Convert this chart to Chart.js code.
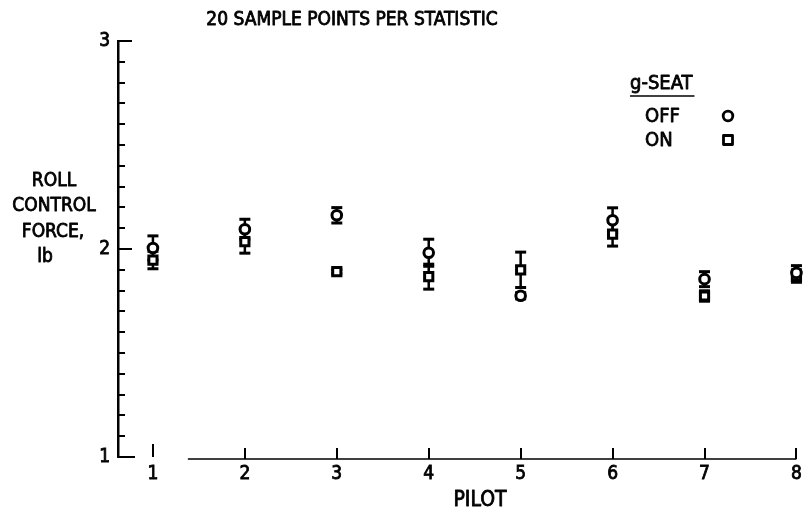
<!DOCTYPE html>
<html>
<head>
<meta charset="utf-8">
<title>Roll control force per pilot</title>
<script src="https://cdn.jsdelivr.net/npm/chart.js@4.4.1/dist/chart.umd.min.js"></script>
<style>
  html, body { margin: 0; padding: 0; background: #fff; }
  #wrap { width: 808px; height: 515px; position: relative; }
</style>
</head>
<body>
<div id="wrap"><canvas id="chart" width="808" height="515"></canvas></div>
<script>
// values (lb)
const PILOTS = [1, 2, 3, 4, 5, 6, 7, 8];
const OFF_MEAN = [2.005, 2.095, 2.162, 1.982, 1.775, 2.138, 1.855, 1.885];
const OFF_ERR = [0.058, 0.048, 0.037, 0.065, 0.015, 0.060, 0.036, 0.035];
const ON_MEAN = [1.947, 2.035, 1.891, 1.867, 1.900, 2.072, 1.774, 1.870];
const ON_ERR = [0.042, 0.055, 0.010, 0.060, 0.085, 0.058, 0.025, 0.030];

const Y_TICKS = [1.0, 1.1, 1.2, 1.3, 1.4, 1.5, 1.6, 1.7, 1.8, 1.9, 2.0,
  2.1, 2.2, 2.3, 2.4, 2.5, 2.6, 2.7, 2.8, 2.9, 3.0];
const Y_LABELED = [1, 2, 3];

const TITLE = "20 SAMPLE POINTS PER STATISTIC";
const Y_TITLE = ["ROLL", "CONTROL", "FORCE,", "lb"];
const X_TITLE = "PILOT";
const LEGEND_TITLE = "g-SEAT";
const LEGEND_LABELS = ["OFF", "ON"];

const FONT = "'Liberation Sans Narrow', 'DejaVu Sans Condensed', 'DejaVu Sans', sans-serif";
const INK = 0.8; // extra stroke so the lettering reads as heavy as the scan

/**
 * draw text filled plus a thin outline
 */
function ink(ctx, s, x, y) {
  ctx.fillText(s, x, y);
  ctx.strokeText(s, x, y);
}

/**
 * build a scatter dataset of vertical error segments, split by nulls
 * @param {number[]} means
 * @param {number[]} errs
 */
function errorSegments(means, errs) {
  const pts = [];
  PILOTS.forEach((p, i) => {
    pts.push({ x: p, y: means[i] - errs[i] });
    pts.push({ x: p, y: means[i] + errs[i] });
    pts.push({ x: p, y: null });
  });
  return pts;
}

const isLabeled = (v) => Y_LABELED.some((l) => Math.abs(l - v) < 1e-6);

// axis ticks, x baseline and all the loose lettering
const decorations = {
  id: "decorations",
  afterDraw(chart) {
    const { ctx, chartArea, scales } = chart;
    const x = scales.x;
    const y = scales.y;
    ctx.save();
    ctx.strokeStyle = "#000";
    ctx.fillStyle = "#000";
    ctx.lineCap = "butt";

    // y ticks pointing into the plot
    ctx.lineWidth = 2;
    Y_TICKS.forEach((v) => {
      const py = Math.round(y.getPixelForValue(v));
      let len = 7;
      if (Math.abs(v - 1) < 1e-6) len = 17;
      else if (isLabeled(v)) len = 14;
      ctx.beginPath();
      ctx.moveTo(chartArea.left, py);
      ctx.lineTo(chartArea.left + len, py);
      ctx.stroke();
    });

    // x baseline (broken near pilot 1 as in the original) and upward ticks
    const by = chartArea.bottom + 2;
    ctx.lineWidth = 1.5;
    ctx.beginPath();
    ctx.moveTo(x.getPixelForValue(1.38), by);
    ctx.lineTo(x.getPixelForValue(8), by);
    ctx.stroke();
    ctx.lineWidth = 2;
    PILOTS.forEach((p) => {
      const px = Math.round(x.getPixelForValue(p));
      ctx.beginPath();
      if (p === 1) {
        ctx.moveTo(px, by - 15);
        ctx.lineTo(px, by - 2);
      } else {
        ctx.moveTo(px, by - 11);
        ctx.lineTo(px, by);
      }
      ctx.stroke();
    });

    ctx.lineWidth = INK;
    ctx.lineJoin = "round";

    // title
    ctx.textBaseline = "middle";
    ctx.textAlign = "center";
    ctx.font = `19px ${FONT}`;
    ink(ctx, TITLE, 352, 20);

    // y title
    ctx.font = `19px ${FONT}`;
    const yt = [[54, 181], [54, 206], [53, 232], [45, 257]];
    Y_TITLE.forEach((s, i) => ink(ctx, s, yt[i][0], yt[i][1]));

    // x title
    ctx.font = `21px ${FONT}`;
    ink(ctx, X_TITLE, 480, 501);

    // legend
    ctx.textAlign = "left";
    ctx.font = `20px ${FONT}`;
    ink(ctx, LEGEND_TITLE, 630, 84);
    const w = ctx.measureText(LEGEND_TITLE).width;
    ink(ctx, LEGEND_LABELS[0], 645, 117);
    ink(ctx, LEGEND_LABELS[1], 645, 141);
    ctx.lineWidth = 1.5;
    ctx.beginPath();
    ctx.moveTo(630, 96);
    ctx.lineTo(632 + w, 96);
    ctx.stroke();
    ctx.lineWidth = 2.8;
    ctx.beginPath();
    ctx.arc(728, 116, 4.8, 0, Math.PI * 2);
    ctx.stroke();
    ctx.strokeRect(723.5, 135.5, 9, 9);

    ctx.restore();
  },
};

const markerBase = {
  showLine: false,
  borderColor: "#000",
  backgroundColor: "#fff",
  borderWidth: 3,
  clip: false,
  order: 0,
};

const barBase = {
  showLine: true,
  spanGaps: false,
  borderColor: "#000",
  backgroundColor: "#000",
  borderWidth: 2.5,
  pointStyle: "line",
  pointRadius: 5.5,
  pointBorderWidth: 3,
  clip: false,
  order: 1,
};

const tickFont = { family: FONT, size: 19 };

new Chart(document.getElementById("chart"), {
  type: "scatter",
  data: {
    datasets: [
      { ...barBase, label: "OFF err", data: errorSegments(OFF_MEAN, OFF_ERR) },
      { ...barBase, label: "ON err", data: errorSegments(ON_MEAN, ON_ERR) },
      {
        ...markerBase,
        label: "OFF",
        data: PILOTS.map((p, i) => ({ x: p, y: OFF_MEAN[i] })),
        pointStyle: "circle",
        pointRadius: 4.8,
      },
      {
        ...markerBase,
        label: "ON",
        data: PILOTS.map((p, i) => ({ x: p, y: ON_MEAN[i] })),
        pointStyle: "rect",
        pointRadius: 5.8,
      },
    ],
  },
  options: {
    responsive: false,
    animation: false,
    events: [],
    layout: { padding: { left: 0, top: 41, right: 8, bottom: 0 } },
    plugins: {
      legend: { display: false },
      tooltip: { enabled: false },
      title: { display: false },
    },
    scales: {
      x: {
        type: "linear",
        min: 0.62,
        max: 8.03,
        afterBuildTicks: (s) => { s.ticks = PILOTS.map((v) => ({ value: v })); },
        afterFit: (s) => { s.height = 58; },
        grid: { display: false, drawTicks: false },
        border: { display: false },
        ticks: {
          color: "#000",
          font: tickFont,
          textStrokeColor: "#000",
          textStrokeWidth: INK,
          padding: 6,
          maxRotation: 0,
          autoSkip: false,
          callback: (v) => String(v),
        },
      },
      y: {
        type: "linear",
        min: 1,
        max: 3,
        afterBuildTicks: (s) => { s.ticks = Y_TICKS.map((v) => ({ value: v })); },
        afterFit: (s) => { s.width = 118; },
        grid: { display: false, drawTicks: false },
        border: { display: true, color: "#000", width: 2.5 },
        ticks: {
          color: "#000",
          font: tickFont,
          textStrokeColor: "#000",
          textStrokeWidth: INK,
          padding: 8,
          autoSkip: false,
          callback: (v) => (isLabeled(v) ? String(Math.round(v)) : ""),
        },
      },
    },
  },
  plugins: [decorations],
});
</script>
</body>
</html>
